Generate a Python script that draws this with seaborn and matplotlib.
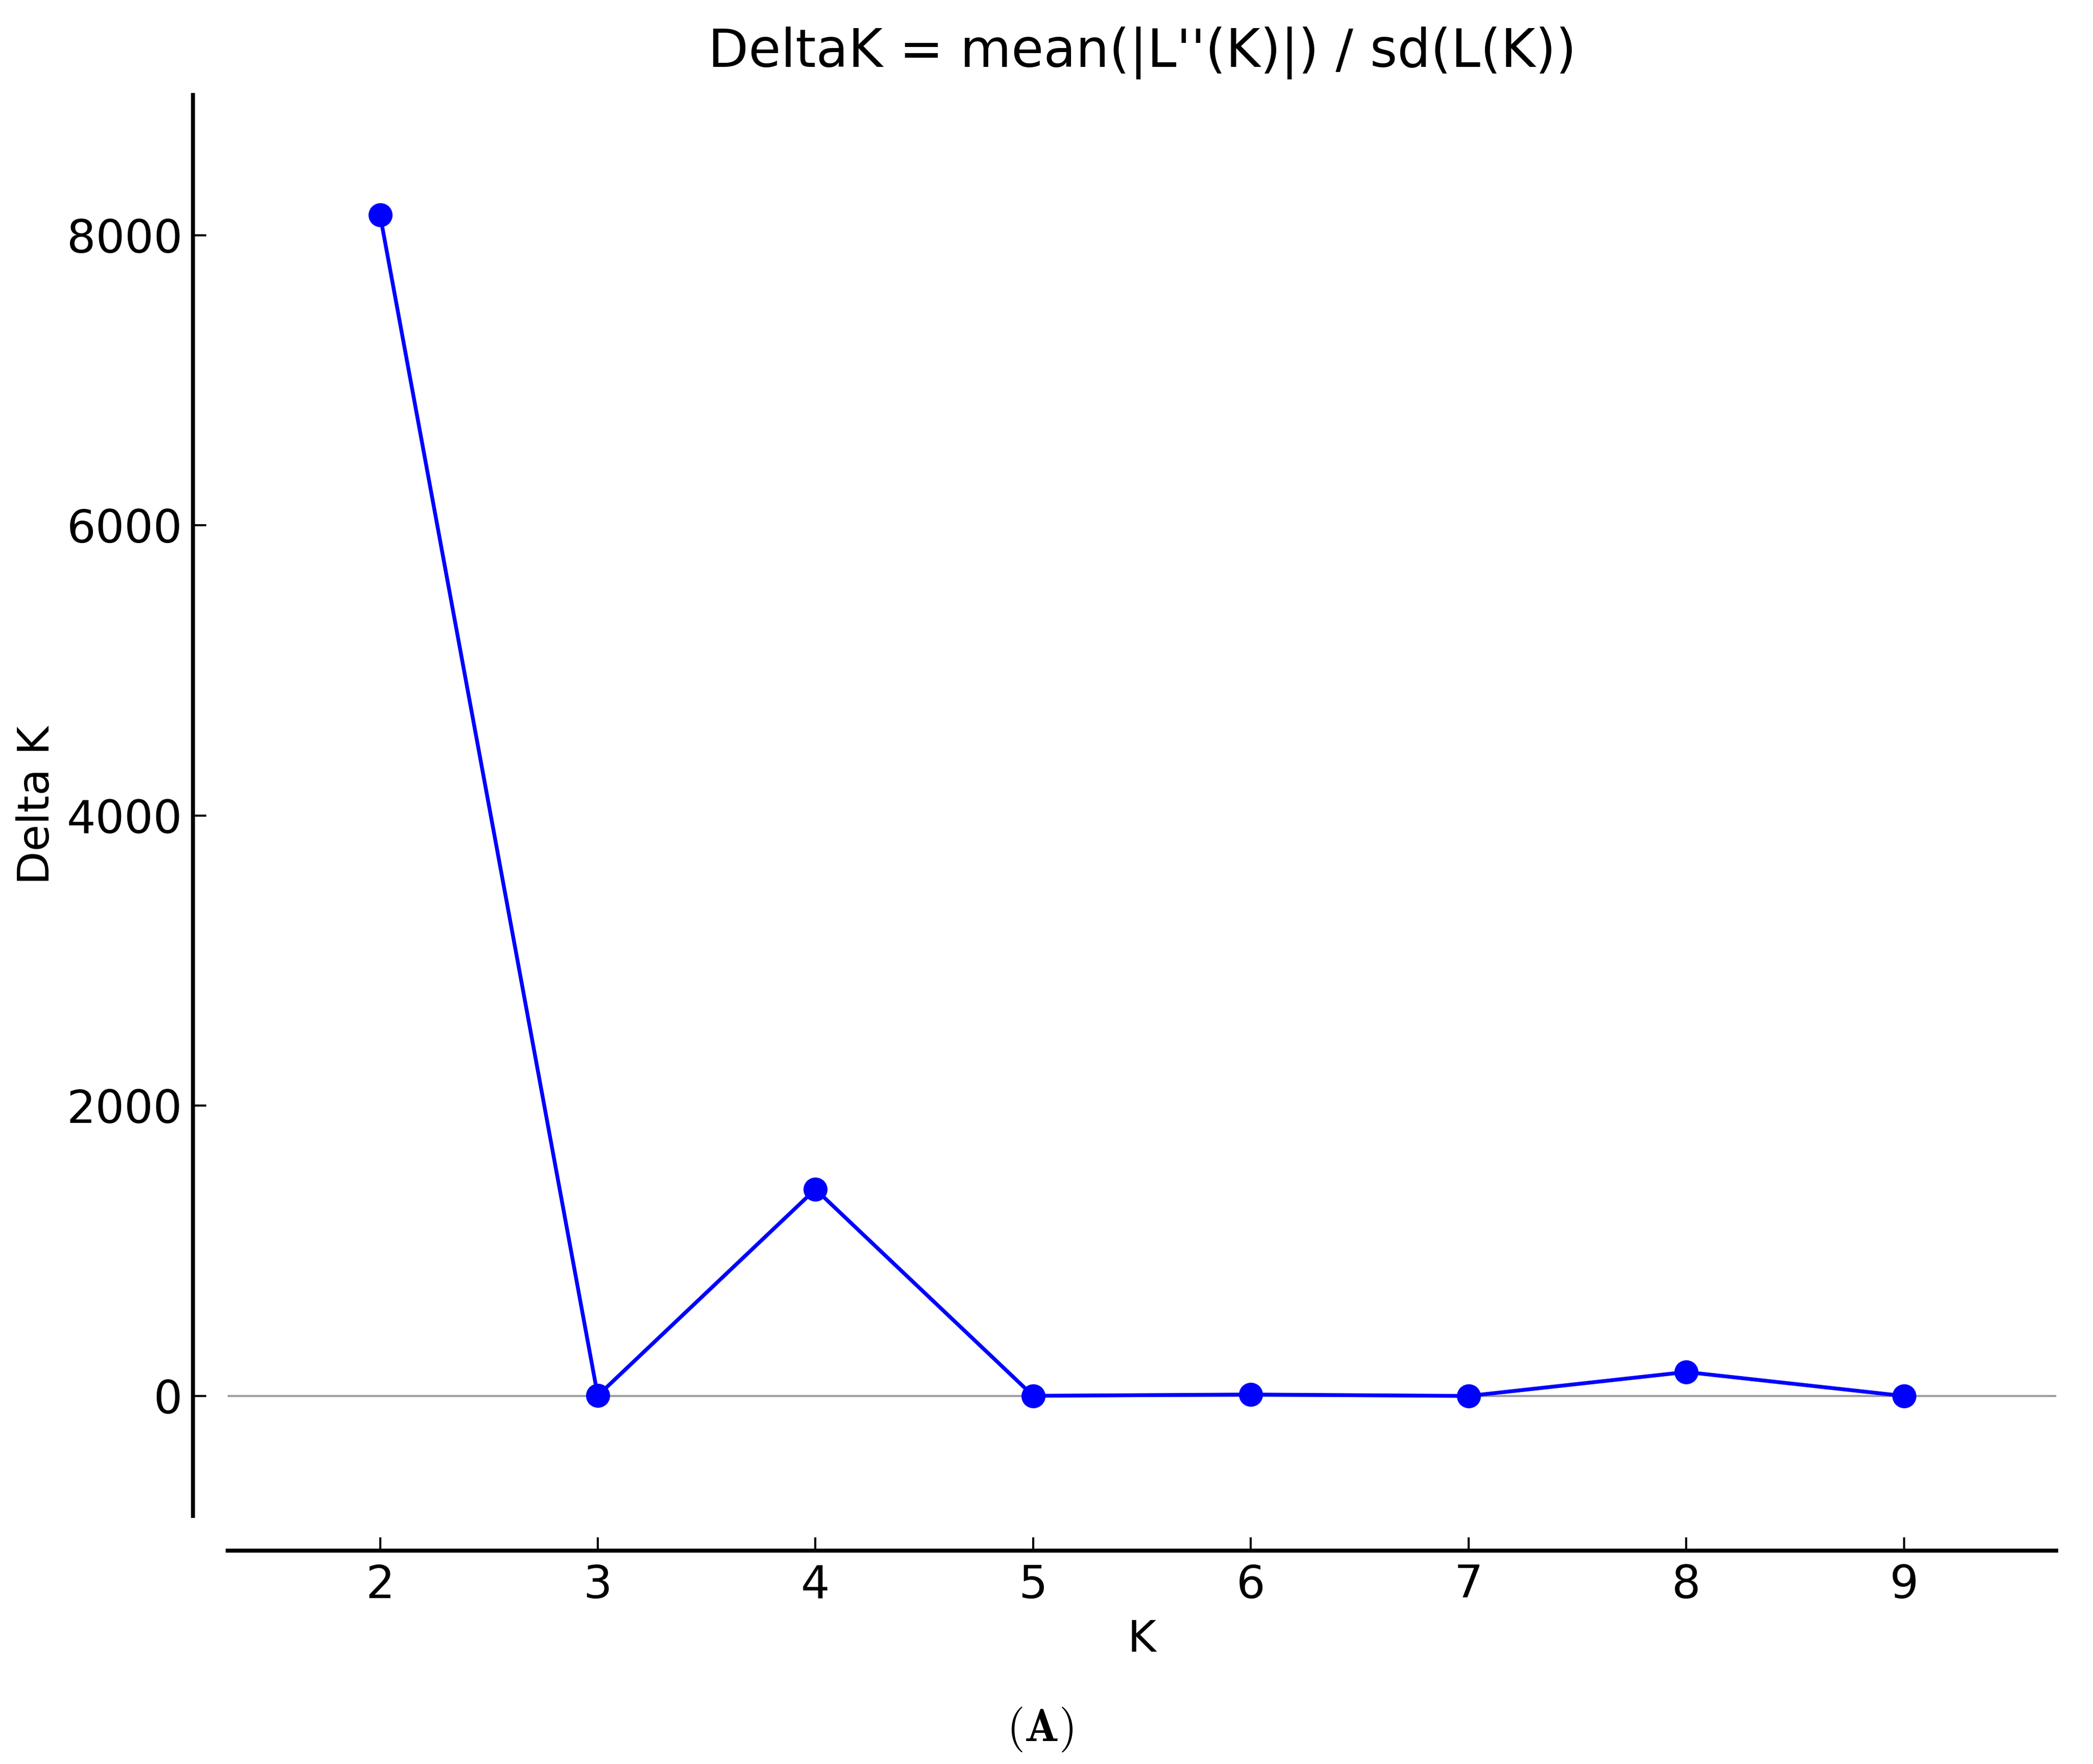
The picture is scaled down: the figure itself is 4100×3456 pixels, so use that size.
import matplotlib
matplotlib.use('Agg')
import matplotlib.pyplot as plt
import seaborn as sns
import pandas as pd

# Evanno DeltaK values
k_values = [2, 3, 4, 5, 6, 7, 8, 9]
delta_k = [8141, 2, 1425, 1, 10, 0, 165, 0]
y_ticks = [0, 2000, 4000, 6000, 8000]

df = pd.DataFrame({'K': k_values, 'DeltaK': delta_k})

sns.set_style('ticks')
plt.rcParams['font.family'] = ['DejaVu Sans']
plt.rcParams['mathtext.fontset'] = 'cm'
plt.rcParams['text.color'] = 'black'
plt.rcParams['axes.labelcolor'] = 'black'

DPI = 300
fig = plt.figure(figsize=(4100 / DPI, 3456 / DPI), dpi=DPI)
ax = fig.add_axes([446 / 4100, 1 - 2970 / 3456, (4028 - 446) / 4100, (2970 - 186) / 3456])

ax.axhline(0, color='#a0a0a0', linewidth=1.0, zorder=1)
sns.lineplot(data=df, x='K', y='DeltaK', ax=ax, color='blue', linewidth=1.8,
             marker='o', markersize=11.3, markeredgecolor='blue',
             markeredgewidth=0, zorder=3)

ax.set_xlim(1.3, 9.7)
ax.set_ylim(-827, 8967)
ax.set_xticks(k_values)
ax.set_yticks(y_ticks)

ax.set_title("DeltaK = mean(|L''(K)|) / sd(L(K))", fontsize=24.7, pad=13.4, color='black')
ax.set_xlabel('K', fontsize=20.5, labelpad=5, color='black')
ax.set_ylabel('Delta K', fontsize=20.5, labelpad=4, color='black')

sns.despine(ax=ax)
offset = 68 * 72 / DPI
ax.spines['left'].set_position(('outward', offset))
ax.spines['bottom'].set_position(('outward', offset))
for side in ['left', 'bottom']:
    ax.spines[side].set_linewidth(1.85)
    ax.spines[side].set_color('black')

ax.tick_params(axis='both', direction='in', length=6.2, width=1.0,
               labelsize=21.4, colors='black')
ax.tick_params(axis='y', pad=5)
ax.tick_params(axis='x', pad=6)
ax.grid(False)

fig.text(0.497, 0.0197, r'$\mathbf{(A)}$', ha='center', va='center', fontsize=21.5)

plt.savefig('out.png', dpi=DPI)
plt.close()
